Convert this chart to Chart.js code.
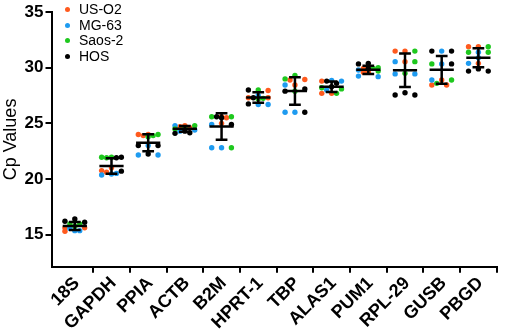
<!DOCTYPE html>
<html><head><meta charset="utf-8">
<script src="https://cdn.jsdelivr.net/npm/chart.js@4.4.1/dist/chart.umd.min.js"></script>
<style>
html,body{margin:0;padding:0;background:#fff;}
#wrap{position:relative;width:512px;height:336px;}
#legend{position:absolute;left:65px;top:2px;font:14px "Liberation Sans",Arial,sans-serif;color:#000;line-height:15.5px;}
.item{display:flex;align-items:center;height:15.5px;white-space:nowrap;}
.dot{width:5px;height:5px;border-radius:50%;margin-right:9px;}
</style></head><body>
<div id="wrap"><canvas id="c" width="512" height="336"></canvas><div id="legend"></div></div>
<script>
const categories = ['18S','GAPDH','PPIA','ACTB','B2M','HPRT-1','TBP','ALAS1','PUM1','RPL-29','GUSB','PBGD'];
const seriesNames = ['US-O2','MG-63','Saos-2','HOS'];
const seriesColors = ['#FF5A1E','#1E9BF0','#1EC81E','#000000'];
const usO2 = [[15.6,15.6,15.3],[21.0,20.75,20.6],[24.0,24.0,23.9],[24.7,24.6,24.8],[25.6,25.5,25.0],[27.95,27.3,27.3],[28.95,28.45,28.9],[28.8,27.7,27.7],[29.95,29.6,29.6],[31.5,31.5,30.55],[28.9,28.45,28.45],[31.9,31.9,30.4]];
const mg63 = [[15.35,15.35,15.55],[20.35,20.45,20.5],[23.0,22.15,22.15],[24.8,24.4,24.3],[24.9,22.8,22.8],[27.5,26.7,26.7],[28.45,26.0,26.0],[28.85,28.8,28.0],[29.25,29.2,29.8],[30.55,29.45,29.45],[31.5,30.35,28.9],[31.4,30.4,30.9]];
const saos2 = [[15.95,15.95,15.75],[21.95,21.95,21.9],[23.8,23.9,24.0],[24.8,24.6,24.5],[25.6,25.6,22.8],[28.0,27.25,27.2],[29.3,29.0,27.9],[27.7,28.1,28.2],[30.0,29.95,29.7],[31.5,30.55,29.5],[30.35,28.9,28.6],[31.9,31.4,31.4]];
const hos = [[16.4,16.2,16.1],[21.95,21.9,20.7],[23.0,23.0,22.25],[24.15,24.1,24.3],[25.5,25.6,24.9],[28.0,27.3,26.75],[28.1,27.9,26.0],[28.6,28.8,28.3],[30.35,30.4,29.95],[27.55,27.75,27.55],[31.5,31.5,30.35],[29.9,29.7,29.7]];
const yTicks = [15,20,25,30,35];
const allSeries = [usO2, mg63, saos2, hos];

// legend (HTML text)
const leg = document.getElementById('legend');
seriesNames.forEach((n,i)=>{
  const d=document.createElement('div');d.className='item';
  d.innerHTML='<span class="dot" style="background:'+seriesColors[i]+'"></span>'+n;
  leg.appendChild(d);
});

// scatter-dot horizontal placement (layout only, within +/-10 px)
const PX_X = 37.2, PX_Y = 11.2, STEP = 5, MIN_D = 5.2;
const placed = allSeries.map(()=>[]);
categories.forEach((c,ci)=>{
  const pts=[];
  allSeries.forEach((s,si)=>s[ci].forEach(v=>pts.push({si,v})));
  pts.sort((a,b)=>b.v-a.v);
  const done=[];
  pts.forEach(p=>{
    const cands=[0,-2,2,-1,1];
    let best=0,bestD=-1;
    for(const k of cands){
      const px=k*STEP, py=p.v*PX_Y;
      const d=done.length?Math.min(...done.map(q=>Math.hypot(q.px-px,q.py-py))):99;
      if(d>=MIN_D){best=px;bestD=d;break;}
      if(d>bestD){bestD=d;best=px;}
    }
    done.push({px:best,py:p.v*PX_Y});
    placed[p.si].push({x:ci+best/PX_X,y:p.v});
  });
});

// mean and SD bars
const meanLine=[], sdLine=[];
categories.forEach((c,ci)=>{
  const vals=[];allSeries.forEach(s=>vals.push(...s[ci]));
  const m=vals.reduce((a,b)=>a+b,0)/vals.length;
  const sd=Math.sqrt(vals.reduce((a,b)=>a+(b-m)*(b-m),0)/(vals.length-1));
  meanLine.push({x:ci-0.33,y:m},{x:ci+0.33,y:m},{x:ci+0.4,y:null});
  sdLine.push({x:ci-0.16,y:m+sd},{x:ci+0.16,y:m+sd},{x:ci+0.2,y:null},
              {x:ci,y:m+sd},{x:ci,y:m-sd},{x:ci+0.2,y:null},
              {x:ci-0.16,y:m-sd},{x:ci+0.16,y:m-sd},{x:ci+0.2,y:null});
});

const FONT='"Liberation Sans", Arial, sans-serif';
const datasets=[
  {label:'mean',data:meanLine,showLine:true,borderColor:'#000',borderWidth:2.5,pointRadius:0,spanGaps:false,borderCapStyle:'butt'},
  {label:'sd',data:sdLine,showLine:true,borderColor:'#000',borderWidth:2.5,pointRadius:0,spanGaps:false,borderCapStyle:'butt'}
];
[3,2,1,0].forEach(si=>datasets.push({label:seriesNames[si],data:placed[si],backgroundColor:seriesColors[si],borderWidth:0,pointRadius:2.7,pointHoverRadius:2.7}));

new Chart(document.getElementById('c'),{
  type:'scatter',
  data:{datasets},
  options:{
    responsive:false,animation:false,devicePixelRatio:1,
    layout:{padding:{left:0,right:11,top:0,bottom:2}},
    plugins:{legend:{display:false},tooltip:{enabled:false}},
    scales:{
      x:{type:'linear',min:-0.635,max:11.5,
        afterBuildTicks:s=>{const t=[];for(let i=0;i<categories.length;i++){t.push({value:i});t.push({value:i+0.5});}s.ticks=t;},
        ticks:{autoSkip:false,minRotation:45,maxRotation:45,color:'#000',padding:0,labelOffset:2,
          font:{family:FONT,size:18,weight:'bold'},
          callback:(v)=>Number.isInteger(v)?categories[v]:''},
        grid:{drawOnChartArea:false,tickLength:6,lineWidth:2,
          color:ctx=>(ctx.tick&&!Number.isInteger(ctx.tick.value))?'#000':'rgba(0,0,0,0)'},
        border:{color:'#000',width:2}
      },
      y:{type:'linear',min:12.1,max:35,
        afterBuildTicks:s=>{s.ticks=yTicks.map(v=>({value:v}));},
        ticks:{color:'#000',padding:2,font:{family:FONT,size:17,weight:'bold'}},
        grid:{drawOnChartArea:false,tickLength:6,lineWidth:2,color:'#000'},
        border:{color:'#000',width:2},
        title:{display:true,text:'Cp Values',color:'#000',font:{family:FONT,size:18},padding:{top:0,bottom:1}}
      }
    }
  }
});
</script>
</body></html>
